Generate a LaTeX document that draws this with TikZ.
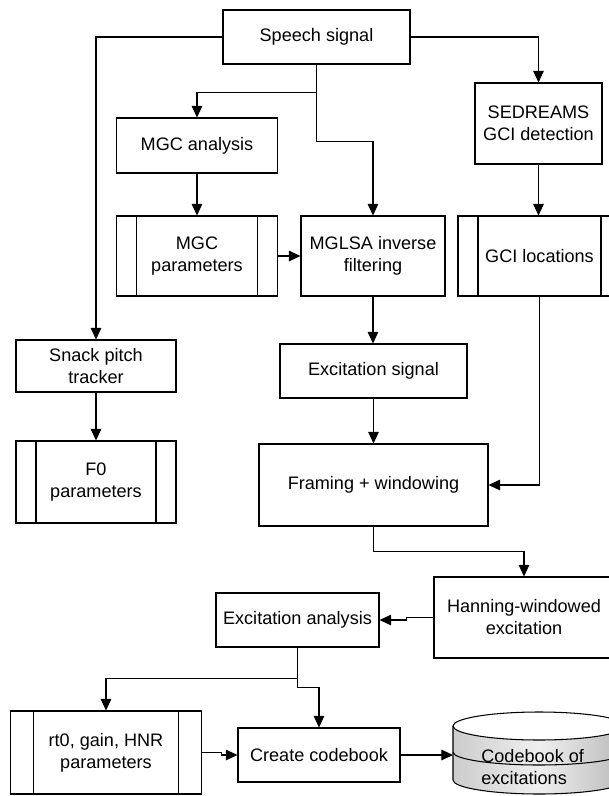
\documentclass[tikz,border=0pt]{standalone}
\usepackage{fontspec}
\setmainfont{Liberation Sans}
\usetikzlibrary{arrows.meta}

\tikzset{
  box/.style={draw, line width=0.6pt, inner sep=0pt, align=center,
    font=\fontsize{10.3}{12.5}\selectfont},
  databox/.style={box, path picture={
      \draw[line width=0.6pt] ([xshift=#1]path picture bounding box.north west) -- ([xshift=#1]path picture bounding box.south west);
      \draw[line width=0.6pt] ([xshift=-#1]path picture bounding box.north east) -- ([xshift=-#1]path picture bounding box.south east);}},
  databox/.default=0.4cm,
  arr/.style={line width=0.6pt, -{Triangle[length=6.6pt,width=6pt]}},
  line/.style={line width=0.6pt}
}

\begin{document}
\begin{tikzpicture}[x=0.02cm, y=-0.02cm]
  \useasboundingbox (0,0) rectangle (609,796);
  \clip (0,0) rectangle (609,796);

  % blocks
  \node[box, minimum width=3.74cm, minimum height=1.08cm] (speech) at (316.5,37) {Speech signal};
  \node[box, minimum width=3.21cm, minimum height=1.1cm] (mgcan) at (197,145.5) {MGC analysis};
  \node[databox, minimum width=3.21cm, minimum height=1.6cm] (mgcpar) at (197,256) {MGC\\parameters};
  \node[box, minimum width=2.88cm, minimum height=1.6cm] (mglsa) at (373,256) {MGLSA inverse\\filtering};
  \node[box, minimum width=2.54cm, minimum height=1.62cm] (sedreams) at (538.5,123.5) {SEDREAMS\\GCI detection};
  \node[databox, minimum width=3.26cm, minimum height=1.6cm] (gciloc) at (539.5,256) {GCI locations};
  \node[box, minimum width=3.2cm, minimum height=1.04cm] (snack) at (96,366) {Snack pitch\\tracker};
  \node[databox, minimum width=3.2cm, minimum height=1.64cm] (f0par) at (96,482) {F0\\parameters};
  \node[box, minimum width=3.74cm, minimum height=1.08cm] (excsig) at (373.5,371) {Excitation signal};
  \node[box, minimum width=4.58cm, minimum height=1.64cm] (framing) at (373.5,485) {Framing + windowing};
  \node[box, minimum width=3.6cm, minimum height=1.62cm] (hann) at (524,617.5) {Hanning-windowed\\excitation};
  \node[box, minimum width=3.26cm, minimum height=1.08cm] (exan) at (297.5,620) {Excitation analysis};
  \node[databox=0.46cm, minimum width=3.83cm, minimum height=1.66cm] (rtpar) at (106,752.5) {rt0, gain, HNR\\parameters};
  \node[box, minimum width=3.24cm, minimum height=1.08cm] (create) at (319,755) {Create codebook};

  % codebook store
  \path[left color=gray!40, right color=gray!55, middle color=gray!12]
    (453,726) -- (453,780) arc[start angle=180, end angle=0, x radius=86, y radius=14] -- (625,726) -- cycle;
  \draw[line] (453,726) -- (453,780) arc[start angle=180, end angle=0, x radius=86, y radius=14] -- (625,726);
  \draw[line, fill=white] (539,726) ellipse[x radius=86, y radius=14];
  \draw[line] (453,752) arc[start angle=180, end angle=0, x radius=86, y radius=13];
  \node[anchor=west, align=left, inner sep=0pt, font=\fontsize{10.3}{12.5}\selectfont] (cbtxt) at (481,767) {Codebook of\\excitations};
  \coordinate (cbin) at (453,755);

  % connectors
  \draw[arr] (speech.west) -| (snack.north);
  \draw[arr] (speech.east) -| (sedreams.north);
  \draw[arr] (speech.south) -- ++(0,28) -| (mgcan.north);
  \draw[arr] (speech.south) -- ++(0,77) -| (mglsa.north);
  \draw[arr] (mgcan) -- (mgcpar);
  \draw[arr] (mgcpar) -- (mglsa);
  \draw[arr] (sedreams.south) -- (sedreams.south |- gciloc.north);
  \draw[arr] (gciloc.south) |- (framing.east);
  \draw[arr] (snack) -- (f0par);
  \draw[arr] (mglsa.south) -- (mglsa.south |- excsig.north);
  \draw[arr] (excsig) -- (framing);
  \draw[arr] (framing.south) -- ++(0,25) -| (hann.north);
  \draw[arr] (hann.west) -- ++(-27,0) |- (exan.east);
  \draw[arr] (exan.south) -- ++(0,31) -| (rtpar.north);
  \draw[arr] (exan.south) -- ++(0,40) -| (create.north);
  \draw[arr] (rtpar.east) -- ++(19,0) |- (create.west);
  \draw[arr] (create.east) -- (cbin);
\end{tikzpicture}
\end{document}
